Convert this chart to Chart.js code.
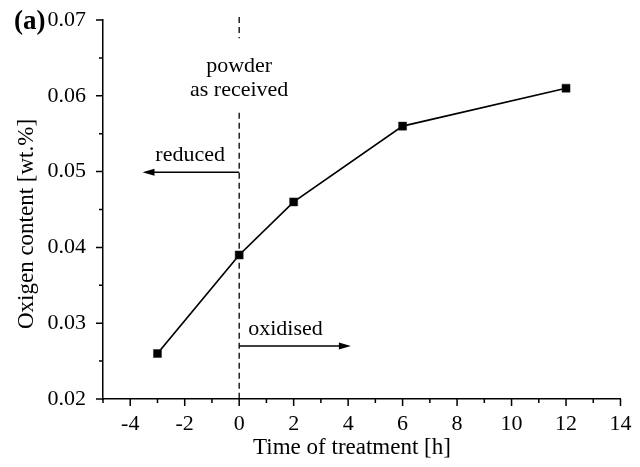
<!DOCTYPE html>
<html>
<head>
<meta charset="utf-8">
<script src="https://cdn.jsdelivr.net/npm/chart.js@4/dist/chart.umd.min.js"></script>
<style>
  html, body { margin: 0; background: #fff; }
  #wrap { width: 640px; height: 467px; }
</style>
</head>
<body>
<div id="wrap"><canvas id="chart" width="640" height="467"></canvas></div>
<script>
// ── DATA ─────────────────────────────────────────────────────────
const timeH    = [-3, 0, 2, 6, 12];                    // time of treatment [h]
const oxygenWt = [0.026, 0.039, 0.046, 0.056, 0.061];  // oxygen content [wt.%]

const xRange = [-5, 14];
const yRange = [0.02, 0.07];

// annotations, in data units
const reducedArrow  = { from: 0, to: -3.55, y: 0.0499 };
const oxidisedArrow = { from: 0, to: 4.1,   y: 0.0270 };

const FONT = '"Liberation Serif", "Times New Roman", serif';

// plot box inside the 640x467 canvas
const BOX = { left: 103, top: 20, right: 620.5, bottom: 399 };

// ── PLUGIN: ticks, dashed line, arrows, texts ───────────────────
const extras = {
  id: 'extras',
  beforeDatasetsDraw(chart) {
    const { ctx, chartArea: a, scales: { x, y } } = chart;
    ctx.save();
    ctx.strokeStyle = '#000';
    ctx.fillStyle = '#000';

    // major / minor ticks (outward)
    ctx.lineWidth = 1.5;
    ctx.beginPath();
    x.ticks.forEach(t => {
      const px = x.getPixelForValue(t.value);
      const len = t.label ? 7 : 4;
      ctx.moveTo(px, a.bottom);
      ctx.lineTo(px, a.bottom + len);
    });
    y.ticks.forEach(t => {
      const py = y.getPixelForValue(t.value);
      const len = t.label ? 7 : 4;
      ctx.moveTo(a.left, py);
      ctx.lineTo(a.left - len, py);
    });
    ctx.stroke();

    // dashed line at t = 0, broken around the "powder as received" note
    const x0 = x.getPixelForValue(0);
    const pY1 = y.getPixelForValue(0.0639);
    const pY2 = y.getPixelForValue(0.0608);
    ctx.lineWidth = 1.3;
    ctx.setLineDash([6, 4]);
    ctx.beginPath();
    ctx.moveTo(x0, a.top - 3);
    ctx.lineTo(x0, pY1 - 28);
    ctx.moveTo(x0, pY2 + 23);
    ctx.lineTo(x0, a.bottom);
    ctx.stroke();
    ctx.setLineDash([]);

    // arrows
    ctx.lineWidth = 1.5;
    drawArrow(ctx, x0, x.getPixelForValue(reducedArrow.to), y.getPixelForValue(reducedArrow.y));
    drawArrow(ctx, x0, x.getPixelForValue(oxidisedArrow.to), y.getPixelForValue(oxidisedArrow.y));

    // notes
    ctx.font = '22px ' + FONT;
    ctx.textBaseline = 'middle';
    ctx.textAlign = 'center';
    ctx.fillText('powder', x0, pY1);
    ctx.fillText('as received', x0, pY2);
    ctx.fillText('reduced', x.getPixelForValue(-1.8), y.getPixelForValue(reducedArrow.y) - 17);
    ctx.textAlign = 'left';
    ctx.fillText('oxidised', x0 + 9, y.getPixelForValue(oxidisedArrow.y) - 17);

    // axis titles
    ctx.font = '23px ' + FONT;
    ctx.textAlign = 'center';
    ctx.fillText('Time of treatment [h]', 352, 448);
    ctx.save();
    ctx.translate(27, 224);
    ctx.rotate(-Math.PI / 2);
    ctx.fillText('Oxigen content [wt.%]', 0, 0);
    ctx.restore();

    // panel label
    ctx.font = 'bold 27px ' + FONT;
    ctx.textAlign = 'left';
    ctx.fillText('(a)', 14, 22);

    ctx.restore();
  }
};

function drawArrow(ctx, xFrom, xTo, yy) {
  const dir = Math.sign(xTo - xFrom);
  ctx.beginPath();
  ctx.moveTo(xFrom, yy);
  ctx.lineTo(xTo - dir * 6, yy);
  ctx.stroke();
  ctx.beginPath();
  ctx.moveTo(xTo, yy);
  ctx.lineTo(xTo - dir * 12, yy - 3.5);
  ctx.lineTo(xTo - dir * 12, yy + 3.5);
  ctx.closePath();
  ctx.fill();
}

// ── CHART ───────────────────────────────────────────────────────
new Chart(document.getElementById('chart'), {
  type: 'scatter',
  data: {
    datasets: [{
      data: timeH.map((t, i) => ({ x: t, y: oxygenWt[i] })),
      showLine: true,
      borderColor: '#000',
      borderWidth: 1.7,
      pointStyle: 'rect',
      pointRadius: 5.7,
      pointBackgroundColor: '#000',
      pointBorderColor: '#222',
      pointBorderWidth: 0.5,
      tension: 0,
    }],
  },
  options: {
    responsive: false,
    animation: false,
    layout: { padding: { top: BOX.top, right: 640 - BOX.right, left: 0, bottom: 0 } },
    plugins: { legend: { display: false }, tooltip: { enabled: false } },
    scales: {
      x: {
        type: 'linear',
        min: xRange[0],
        max: xRange[1],
        afterFit: s => {
          s.height = 467 - BOX.bottom;
          s.paddingLeft = 0;
          s.paddingRight = 0;
        },
        grid: { display: false, drawTicks: false },
        border: { display: true, color: '#000', width: 1.5 },
        ticks: {
          stepSize: 1,
          autoSkip: false,
          maxRotation: 0,
          padding: 12,
          color: '#000',
          font: { family: FONT, size: 22 },
          callback: v => (v % 2 === 0 ? String(v) : ''),
        },
      },
      y: {
        min: yRange[0],
        max: yRange[1],
        afterFit: s => {
          s.width = BOX.left;
          s.paddingTop = 0;
          s.paddingBottom = 0;
        },
        grid: { display: false, drawTicks: false },
        border: { display: true, color: '#000', width: 1.5 },
        ticks: {
          stepSize: 0.005,
          autoSkip: false,
          padding: 17,
          color: '#000',
          font: { family: FONT, size: 22 },
          callback: v => (Math.abs(Math.round(v * 100) - v * 100) < 1e-6 ? v.toFixed(2) : ''),
        },
      },
    },
  },
  plugins: [extras],
});
</script>
</body>
</html>
